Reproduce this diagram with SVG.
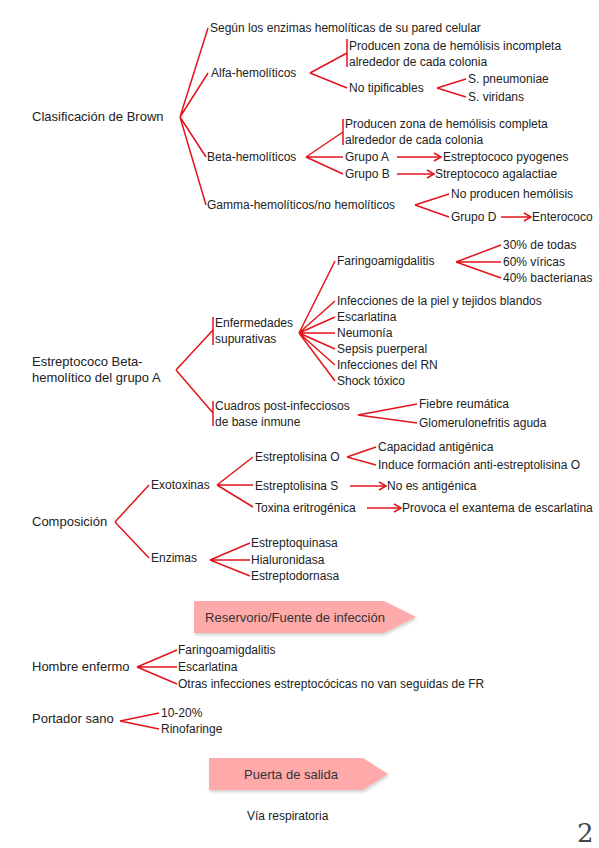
<svg xmlns="http://www.w3.org/2000/svg" width="599" height="848" viewBox="0 0 599 848">
<style>
text{font-family:"Liberation Sans","DejaVu Sans",sans-serif;font-size:12px;fill:#222}
.h{font-size:13px}
.c path,.c line{stroke:#e3141c;stroke-width:1.5;fill:none}
.ban{fill:#ffaaaa}
.bt{font-family:"Liberation Sans Narrow","Liberation Sans",sans-serif;font-size:13px;fill:#333}
.pg{font-family:"DejaVu Serif",serif;font-size:26px;fill:#444}
</style>
<defs>
<marker id="ah" markerUnits="userSpaceOnUse" markerWidth="10" markerHeight="10" refX="8" refY="5" orient="auto">
<path d="M1,1 L8,5 L1,9" fill="none" stroke="#e3141c" stroke-width="1.5"/>
</marker>
<filter id="sh" x="-10%" y="-20%" width="120%" height="150%">
<feDropShadow dx="1" dy="2" stdDeviation="1.5" flood-color="#000" flood-opacity="0.18"/>
</filter>
</defs>

<g id="connectors" class="c">
<path d="M180,117 L208,28 M180,117 L208,73 M180,117 L206,157 M180,117 L206,205"/>
<path d="M310,73 L347,53 M347,39 V67 M310,73 L347,88"/>
<path d="M437,88 L466,79 M437,88 L466,97"/>
<path d="M306,157 L343,132 M343,119 V145 M306,157 L343,157 M306,157 L343,174"/>
<path d="M397,157 H441" marker-end="url(#ah)"/>
<path d="M397,174 H434" marker-end="url(#ah)"/>
<path d="M415,205 L449,194 M415,205 L449,217"/>
<path d="M501,217 H531" marker-end="url(#ah)"/>
<path d="M176,370 L213,330 M213,317 V345 M176,370 L213,413 M213,401 V426"/>
<path d="M299,333 L335,261 M299,333 L335,301 M299,333 L335,317 M299,333 L335,333 M299,333 L335,349 M299,333 L335,365 M299,333 L335,381"/>
<path d="M456,262 L501,245 M456,262 L501,262 M456,262 L501,278"/>
<path d="M358,415 L417,404 M358,415 L417,423"/>
<path d="M115,522 L149,485 M115,522 L149,558"/>
<path d="M217,485 L253,457 M217,485 L253,485 M217,485 L253,507"/>
<path d="M210,560 L250,543 M210,560 L250,560 M210,560 L250,576"/>
<path d="M347,457 L376,447 M347,457 L376,465"/>
<path d="M350,486 H386" marker-end="url(#ah)"/>
<path d="M367,508 H401" marker-end="url(#ah)"/>
<path d="M137,667 L177,650 M137,667 L177,667 M137,667 L177,684"/>
<path d="M120,721 L159,713 M120,721 L159,729"/>
</g>

<g id="brown"><text class="h" x="32" y="121">Clasificación de Brown</text></g>
<g id="segun"><text x="210" y="32">Según los enzimas hemolíticas de su pared celular</text></g>
<g id="alfa"><text x="211" y="77">Alfa-hemolíticos</text></g>
<g id="alfa-zona"><text x="349" y="50">Producen zona de hemólisis incompleta</text><text x="349" y="66">alrededor de cada colonia</text></g>
<g id="notipif"><text x="349" y="92">No tipificables</text></g>
<g id="pneumoniae"><text x="468" y="83">S. pneumoniae</text></g>
<g id="viridans"><text x="468" y="101">S. viridans</text></g>
<g id="beta"><text x="207" y="161">Beta-hemolíticos</text></g>
<g id="beta-zona"><text x="345" y="128">Producen zona de hemólisis completa</text><text x="345" y="144">alrededor de cada colonia</text></g>
<g id="grupoA"><text x="345" y="161">Grupo A</text></g>
<g id="pyogenes"><text x="443" y="161">Estreptococo pyogenes</text></g>
<g id="grupoB"><text x="345" y="178">Grupo B</text></g>
<g id="agalactiae"><text x="435" y="178">Streptococo agalactiae</text></g>
<g id="gamma"><text x="207" y="209">Gamma-hemolíticos/no hemolíticos</text></g>
<g id="noproducen"><text x="451" y="198">No producen hemólisis</text></g>
<g id="grupoD"><text x="451" y="221">Grupo D</text></g>
<g id="enterococo"><text x="532" y="221">Enterococo</text></g>

<g id="estrepto"><text class="h" x="32" y="366">Estreptococo Beta-</text><text class="h" x="32" y="382">hemolítico del grupo A</text></g>
<g id="supurativas"><text x="215" y="327">Enfermedades</text><text x="215" y="343">supurativas</text></g>
<g id="cuadros"><text x="215" y="410">Cuadros post-infecciosos</text><text x="215" y="426">de base inmune</text></g>
<g id="faringo"><text x="337" y="265">Faringoamigdalitis</text></g>
<g id="p30"><text x="503" y="249">30% de todas</text></g>
<g id="p60"><text x="503" y="266">60% víricas</text></g>
<g id="p40"><text x="503" y="282">40% bacterianas</text></g>
<g id="piel"><text x="337" y="305">Infecciones de la piel y tejidos blandos</text></g>
<g id="escarlatina"><text x="337" y="321">Escarlatina</text></g>
<g id="neumonia"><text x="337" y="337">Neumonía</text></g>
<g id="sepsis"><text x="337" y="353">Sepsis puerperal</text></g>
<g id="rn"><text x="337" y="369">Infecciones del RN</text></g>
<g id="shock"><text x="337" y="385">Shock tóxico</text></g>
<g id="fiebre"><text x="419" y="408">Fiebre reumática</text></g>
<g id="glomerulo"><text x="419" y="427">Glomerulonefritis aguda</text></g>

<g id="composicion"><text class="h" x="32" y="526">Composición</text></g>
<g id="exotoxinas"><text x="151" y="489">Exotoxinas</text></g>
<g id="enzimas"><text x="151" y="562">Enzimas</text></g>
<g id="slo"><text x="255" y="461">Estreptolisina O</text></g>
<g id="capacidad"><text x="378" y="451">Capacidad antigénica</text></g>
<g id="induce"><text x="378" y="469">Induce formación anti-estreptolisina O</text></g>
<g id="sls"><text x="255" y="490">Estreptolisina S</text></g>
<g id="noantig"><text x="387" y="490">No es antigénica</text></g>
<g id="toxina"><text x="255" y="512">Toxina eritrogénica</text></g>
<g id="provoca"><text x="402" y="512">Provoca el exantema de escarlatina</text></g>
<g id="quinasa"><text x="251" y="547">Estreptoquinasa</text></g>
<g id="hialu"><text x="251" y="564">Hialuronidasa</text></g>
<g id="dornasa"><text x="251" y="580">Estreptodornasa</text></g>

<g id="reservorio">
<path class="ban" filter="url(#sh)" d="M194,601 H384 L416,617 L384,633 H194 Z"/>
<text class="bt" x="295" y="622" text-anchor="middle">Reservorio/Fuente de infección</text>
</g>
<g id="hombre"><text class="h" x="32" y="671">Hombre enfermo</text></g>
<g id="h-faringo"><text x="178" y="654">Faringoamigdalitis</text></g>
<g id="h-escarlatina"><text x="178" y="671">Escarlatina</text></g>
<g id="h-otras"><text x="178" y="688">Otras infecciones estreptocócicas no van seguidas de FR</text></g>
<g id="portador"><text class="h" x="32" y="723">Portador sano</text></g>
<g id="p1020"><text x="161" y="717">10-20%</text></g>
<g id="rinofaringe"><text x="161" y="733">Rinofaringe</text></g>

<g id="puerta">
<path class="ban" filter="url(#sh)" d="M209,758 H363 L388,774 L363,790 H209 Z"/>
<text class="bt" x="291" y="779" text-anchor="middle">Puerta de salida</text>
</g>
<g id="via"><text x="247" y="820">Vía respiratoria</text></g>
<g id="page"><text class="pg" x="577" y="842">2</text></g>
</svg>
